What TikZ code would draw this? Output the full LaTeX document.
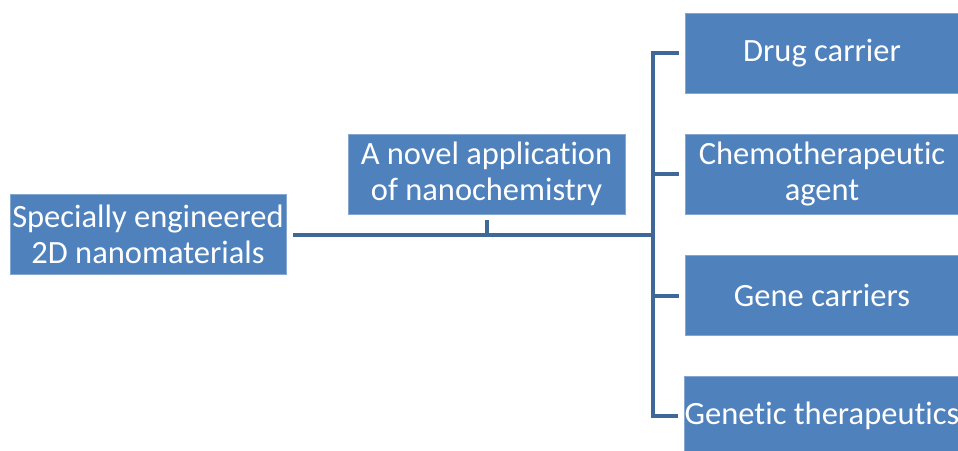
\documentclass[tikz,border=0pt]{standalone}
\usepackage{fontspec}
\setmainfont{Carlito}[Ligatures=NoCommon]
\definecolor{boxblue}{HTML}{4F81BD}
\definecolor{linkblue}{HTML}{3F6797}
\begin{document}
\begin{tikzpicture}[x=1pt,y=-1pt,
  box/.style={fill=boxblue,draw=boxblue!70!white,line width=0.6pt,text=white,
    minimum width=#1,minimum height=80pt,inner sep=0pt,align=center,
    font=\fontsize{32.5}{35.5}\selectfont},
  box/.default=276pt,
  link/.style={draw=linkblue,line width=4pt}]
\useasboundingbox (0,0) rectangle (958,450);
\clip (0,0) rectangle (958,450);
\fill[white] (0,0) rectangle (958,450);
\node[box=276pt] (left) at (148,234.5) {Specially engineered\\2D nanomaterials};
\node[box=277pt] (mid) at (486.5,174) {A novel application\\of nanochemistry};
\node[box=274pt] (d1) at (822,53) {Drug carrier};
\node[box=274pt] (d2) at (822,174) {Chemotherapeutic\\agent};
\node[box=274pt] (d3) at (822,295.5) {Gene carriers};
\node[box=274pt] (d4) at (822,416) {Genetic therapeutics};
\coordinate (hub) at (653,235);
\draw[link,shorten <=7pt] (left.east |- hub) -- (hub);
\draw[link,shorten <=6pt] (mid.south) -- (mid.south |- hub);
\draw[link,shorten <=6pt,shorten >=6pt,line join=miter] (d1.west) -- (hub |- d1.west) -- (hub |- d4.west) -- (d4.west);
\draw[link,shorten <=6pt] (d2.west) -- (hub |- d2.west);
\draw[link,shorten <=6pt] (d3.west) -- (hub |- d3.west);
\end{tikzpicture}
\end{document}
